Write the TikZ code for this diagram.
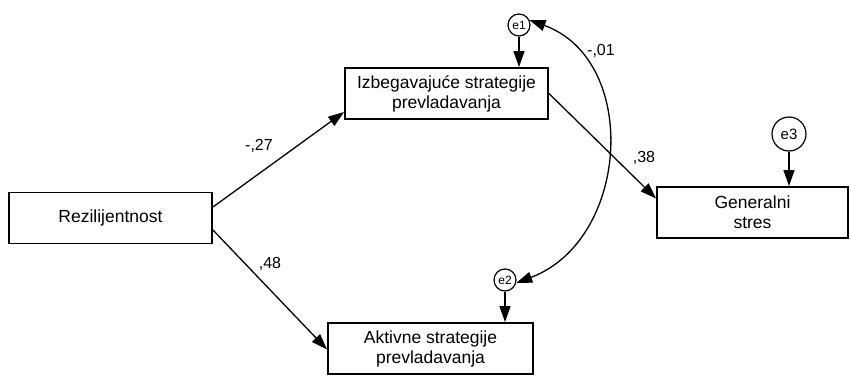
\documentclass[tikz,border=0pt]{standalone}
\usepackage{fontspec}
\setmainfont{Liberation Sans}
\usetikzlibrary{arrows.meta}
\begin{document}
\begin{tikzpicture}[x=1pt,y=-1pt,
  varbox/.style={draw,line width=1.9pt,minimum width=203pt,minimum height=51pt,
    inner sep=0pt,align=center,font=\fontsize{17.5}{20}\selectfont},
  errsmall/.style={draw,circle,line width=1.2pt,minimum size=22pt,inner sep=0pt,
    font=\fontsize{12}{14}\selectfont},
  errbig/.style={draw,circle,line width=1.2pt,minimum size=34pt,inner sep=0pt,
    font=\fontsize{15}{17}\selectfont},
  path/.style={line width=1.3pt,-{Triangle[length=16pt,width=11pt]}},
  cov/.style={line width=1.3pt,{Triangle[length=16pt,width=11pt]}-{Triangle[length=16pt,width=11pt]}},
  coef/.style={font=\fontsize{16}{18}\selectfont,inner sep=0pt}]
\useasboundingbox (0,0) rectangle (851,375);

% observed variables
\node[varbox] (rez) at (110.5,218) {Rezilijentnost};
\node[varbox] (izb) at (446.5,93.5) {Izbegavajuće strategije\\prevladavanja};
\node[varbox,minimum width=205pt] (akt) at (430.5,348.5) {Aktivne strategije\\prevladavanja};
\node[varbox,minimum width=191pt] (gen) at (752.5,212.5) {Generalni\\stres};

% error terms
\node[errsmall] (e1) at (519,25) {e1};
\node[errsmall] (e2) at (505,280) {e2};
\node[errbig] (e3) at (789,134) {e3};

% regression paths
\draw[path] ([yshift=11pt]rez.east) -- ([yshift=-18.5pt]izb.west);
\draw[path] ([yshift=-12pt]rez.east) -- ([yshift=-1pt]akt.west);
\draw[path] (izb.east) -- ([yshift=14pt]gen.west);
\draw[path] (e1) -- (e1 |- izb.north);
\draw[path] (e2) -- (e2 |- akt.north);
\draw[path] (e3) -- (e3 |- gen.north);

% residual covariance
\draw[cov] (e1.25) .. controls (640,60) and (630,240) .. (e2.-15);

% coefficients
\node[coef] (c1) at (259,146) {-,27};
\node[coef] (c2) at (270,264) {,48};
\node[coef] (c3) at (644,158) {,38};
\node[coef] (c4) at (601,51) {-,01};
\end{tikzpicture}
\end{document}
